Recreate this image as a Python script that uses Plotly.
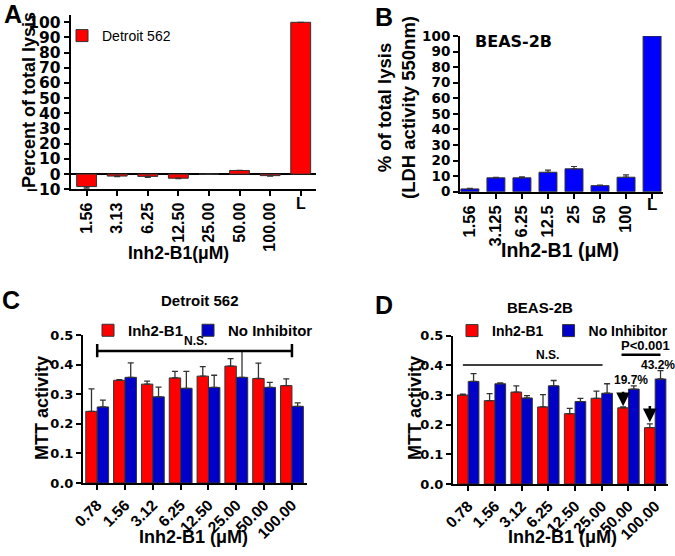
import plotly.graph_objects as go

# ---- data ----
# A: LDH release, Detroit 562
a_conc = ["1.56", "3.13", "6.25", "12.50", "25.00", "50.00", "100.00", "L"]
a_lysis = [-8.2, -1.3, -1.5, -2.7, 0.0, 2.4, -1.0, 100.0]
a_err_down = [1.0, 0.4, 0.7, 0.3, 0.0, 0.0, 0.3, 0.0]

# B: LDH release, BEAS-2B
b_conc = ["1.56", "3.125", "6.25", "12.5", "25", "50", "100", "L"]
b_lysis = [1.8, 8.9, 8.9, 12.5, 14.7, 3.9, 9.3, 100.0]
b_err = [0.3, 0.3, 0.6, 1.4, 1.5, 0.4, 1.5, 0.0]

# C/D: MTT activity
mtt_conc = ["0.78", "1.56", "3.12", "6.25", "12.50", "25.00", "50.00", "100.00"]
c_inh = [0.242, 0.347, 0.334, 0.355, 0.361, 0.395, 0.353, 0.329]
c_inh_err = [0.076, 0.002, 0.010, 0.022, 0.032, 0.025, 0.052, 0.023]
c_none = [0.257, 0.357, 0.291, 0.320, 0.323, 0.357, 0.323, 0.259]
c_none_err = [0.023, 0.049, 0.033, 0.057, 0.041, 0.090, 0.017, 0.012]

d_inh = [0.300, 0.281, 0.310, 0.260, 0.237, 0.289, 0.257, 0.190]
d_inh_err = [0.003, 0.024, 0.021, 0.041, 0.018, 0.024, 0.003, 0.013]
d_none = [0.346, 0.338, 0.290, 0.331, 0.278, 0.306, 0.320, 0.354]
d_none_err = [0.026, 0.003, 0.008, 0.018, 0.011, 0.032, 0.011, 0.028]

RED = "#FF0000"
BLUE = "#0000FF"
DBLUE = "#0000C8"
EDGE = "#333333"
ARIAL = "Liberation Sans"
WIDE = "DejaVu Sans"

W, H = 675, 556


def px(x):
    return x / W


def py(y):
    return 1 - y / H


fig = go.Figure()

# A
fig.add_trace(go.Bar(
    x=a_conc, y=a_lysis, name="Detroit 562", width=0.65,
    marker=dict(color=RED, line=dict(color=EDGE, width=1)),
    error_y=dict(type="data", symmetric=False, array=[0] * 8, arrayminus=a_err_down,
                 color=EDGE, thickness=1.2, width=3),
    xaxis="x", yaxis="y", legend="legend",
))

# B
fig.add_trace(go.Bar(
    x=b_conc, y=b_lysis, name="BEAS-2B", width=0.69, showlegend=False,
    marker=dict(color=BLUE, line=dict(color=EDGE, width=1)),
    error_y=dict(type="data", symmetric=False, array=b_err, arrayminus=[0] * 8,
                 color=EDGE, thickness=1.2, width=3),
    xaxis="x2", yaxis="y2",
))

# C and D (grouped by offset)
for xa, ya, lg, inh, inh_e, none, none_e, w in [
    ("x3", "y3", "legend2", c_inh, c_inh_err, c_none, c_none_err, 0.41),
    ("x4", "y4", "legend3", d_inh, d_inh_err, d_none, d_none_err, 0.40),
]:
    fig.add_trace(go.Bar(
        x=mtt_conc, y=inh, name="Inh2-B1", width=w, offset=-w,
        marker=dict(color=RED, line=dict(color=EDGE, width=1)),
        error_y=dict(type="data", symmetric=False, array=inh_e, arrayminus=[0] * 8,
                     color=EDGE, thickness=1.3, width=3),
        xaxis=xa, yaxis=ya, legend=lg,
    ))
    fig.add_trace(go.Bar(
        x=mtt_conc, y=none, name="No Inhibitor", width=w, offset=0,
        marker=dict(color=DBLUE, line=dict(color=EDGE, width=1)),
        error_y=dict(type="data", symmetric=False, array=none_e, arrayminus=[0] * 8,
                     color=EDGE, thickness=1.3, width=3),
        xaxis=xa, yaxis=ya, legend=lg,
    ))

axis_common = dict(showline=True, linecolor="black", linewidth=2, ticks="outside",
                   ticklen=5, tickwidth=2, tickcolor="black", showgrid=False,
                   zeroline=False, fixedrange=True, automargin=False)

fig.update_layout(
    width=W, height=H, margin=dict(l=0, r=0, t=0, b=0, autoexpand=False),
    paper_bgcolor="white", plot_bgcolor="white",
    barmode="overlay",
    # A
    xaxis=dict(axis_common, domain=[px(70.7), px(316)], anchor="y", type="category",
               range=[-0.52, 7.5], tickangle=-90,
               tickvals=a_conc, ticktext=a_conc[:-1] + [""],
               tickfont=dict(family=ARIAL, size=16, color="black", weight="bold")),
    yaxis=dict(axis_common, domain=[py(189.3), py(14.7)], anchor="x", range=[-10, 105],
               tickvals=list(range(-10, 101, 10)), zeroline=True, zerolinecolor="black",
               zerolinewidth=2,
               tickfont=dict(family=WIDE, size=15.5, color="black", weight="bold")),
    # B
    xaxis2=dict(axis_common, domain=[px(460), px(663)], anchor="y2", type="category",
                range=[-0.38, 7.42], tickangle=-90,
                tickvals=b_conc, ticktext=b_conc[:-1] + [""],
                tickfont=dict(family=ARIAL, size=16.5, color="black", weight="bold")),
    yaxis2=dict(axis_common, domain=[py(191.7), py(36)], anchor="x2", range=[0, 100],
                tickvals=list(range(0, 101, 10)),
                tickfont=dict(family=WIDE, size=13.5, color="black", weight="bold")),
    # C
    xaxis3=dict(axis_common, domain=[px(83), px(306.7)], anchor="y3", type="category",
                range=[-0.51, 7.53], tickangle=-45,
                tickfont=dict(family=ARIAL, size=15.5, color="black", weight="bold")),
    yaxis3=dict(axis_common, domain=[py(483), py(335)], anchor="x3", range=[0, 0.5],
                tickvals=[0, 0.1, 0.2, 0.3, 0.4, 0.5], tickformat=".1f",
                tickfont=dict(family=WIDE, size=13, color="black", weight="bold")),
    # D
    xaxis4=dict(axis_common, domain=[px(453), px(668)], anchor="y4", type="category",
                range=[-0.57, 7.48], tickangle=-45,
                tickfont=dict(family=ARIAL, size=15.5, color="black", weight="bold")),
    yaxis4=dict(axis_common, domain=[py(484), py(335.7)], anchor="x4", range=[0, 0.5],
                tickvals=[0, 0.1, 0.2, 0.3, 0.4, 0.5], tickformat=".1f",
                tickfont=dict(family=WIDE, size=13, color="black", weight="bold")),
    legend=dict(x=px(62), y=py(20), xanchor="left", yanchor="top", bgcolor="rgba(0,0,0,0)",
                font=dict(family=ARIAL, size=14, color="black")),
    legend2=dict(x=px(88), y=py(314), xanchor="left", yanchor="top", orientation="h",
                 bgcolor="rgba(0,0,0,0)", itemwidth=30,
                 font=dict(family=ARIAL, size=15, color="black", weight="bold")),
    legend3=dict(x=px(452), y=py(315), xanchor="left", yanchor="top", orientation="h",
                 bgcolor="rgba(0,0,0,0)", itemwidth=30,
                 font=dict(family=ARIAL, size=14, color="black", weight="bold")),
)


def note(text, x, y, size, angle=0, xref="paper", yref="paper", family=ARIAL, weight="bold"):
    fig.add_annotation(text=text, x=x, y=y, xref=xref, yref=yref, showarrow=False,
                       textangle=angle, xanchor="center", yanchor="middle",
                       font=dict(family=family, size=size, color="black", weight=weight))


# panel letters
note("A", px(13), py(14), 25)
note("B", px(384), py(17), 25)
note("C", px(11), py(300), 25)
note("D", px(384), py(305), 25)

# axis titles
note("Percent of total lysis", px(29), py(100), 18, angle=-90)
note("% of total lysis<br>(LDH activity 550nm)", px(396), py(108), 18.5, angle=-90)
note("MTT activity", px(42), py(408), 18, angle=-90)
note("MTT activity", px(415), py(408), 18, angle=-90)
note("Inh2-B1(μM)", px(178), py(253), 17.5)
note("Inh2-B1 (μM)", px(560), py(250), 19.5)
note("Inh2-B1 (μM)", px(193), py(537), 18)
note("Inh2-B1 (μM)", px(562), py(537), 18)

# upright "L" tick labels
note("L", "L", py(204), 16, xref="x")
note("L", "L", py(205), 17, xref="x2")

# titles
note("BEAS-2B", px(513), py(42), 16, family=WIDE)
note("Detroit 562", px(200), py(300), 15)
note("BEAS-2B", px(540), py(307), 15)

# C: N.S. bracket
for x0, y0, x1, y1 in [(0, 0.446, 7, 0.446), (0, 0.425, 0, 0.47), (7, 0.425, 7, 0.47)]:
    fig.add_shape(type="line", xref="x3", yref="y3", x0=x0, y0=y0, x1=x1, y1=y1,
                  line=dict(color="black", width=2.5))
note("N.S.", 3.55, 0.479, 12, xref="x3", yref="y3")

# D: N.S. line, P line, percentages, arrows
fig.add_shape(type="line", xref="x4", yref="y4", x0=-0.2, y0=0.401, x1=5.03, y1=0.401,
              line=dict(color="black", width=1.5))
fig.add_shape(type="line", xref="x4", yref="y4", x0=5.74, y0=0.436, x1=7.2, y1=0.436,
              line=dict(color="black", width=2.5))
note("N.S.", 2.96, 0.436, 12, xref="x4", yref="y4")
note("P<0.001", 6.64, 0.467, 13, xref="x4", yref="y4")
note("19.7%", 6.08, 0.352, 12, xref="x4", yref="y4")
note("43.2%", 7.1, 0.402, 12, xref="x4", yref="y4")
for xc, tip, tail in [(5.8, 0.262, 0.316), (6.8, 0.208, 0.268)]:
    fig.add_annotation(x=xc, y=tip, ax=xc, ay=tail, xref="x4", yref="y4",
                       axref="x4", ayref="y4", text="", showarrow=True,
                       arrowhead=2, arrowsize=1.1, arrowwidth=2.5, arrowcolor="black")

# drop the page's default body margin so the figure fills the window
fig.write_html("out.html", config={"displayModeBar": False},
               post_script="document.body.style.margin = '0';")
